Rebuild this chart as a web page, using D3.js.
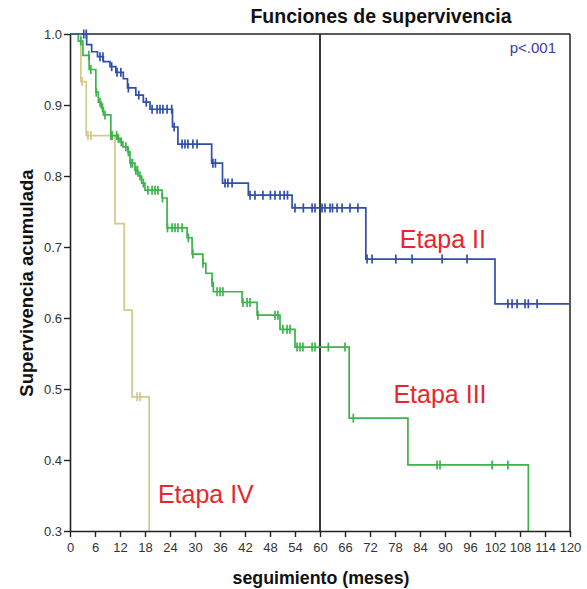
<!DOCTYPE html>
<html><head><meta charset="utf-8">
<script src="https://cdn.jsdelivr.net/npm/d3@7"></script>
<style>body{margin:0;background:#fff}svg{display:block}text{font-family:Arial,"Liberation Sans",sans-serif}</style>
</head><body><svg id="c" width="587" height="589"></svg>
<script>
// ---- data ----
const xTicks = [0,6,12,18,24,30,36,42,48,54,60,66,72,78,84,90,96,102,108,114,120];
const yTicks = [0.3,0.4,0.5,0.6,0.7,0.8,0.9,1.0];

// Etapa II (blue)
const etapa2Times = [0,4.0,5.2,6.6,8.0,9.6,11.0,12.8,13.8,15.8,17.6,19.2,24.6,25.9,34.0,36.6,42.8,53.3,71.0,102.0];
const etapa2Surv  = [1.0,0.985,0.975,0.968,0.961,0.954,0.946,0.937,0.924,0.914,0.904,0.894,0.869,0.845,0.818,0.790,0.773,0.755,0.683,0.620];
const etapa2End = 120;
const etapa2Censor = [3.3,3.9,7.2,7.9,10.0,11.3,12.2,14.0,16.5,18.3,19.7,20.9,21.6,22.3,23.3,24.4,25.0,26.9,27.6,28.3,29.5,30.5,34.3,34.9,37.2,37.9,38.9,43.2,44.4,46.3,48.1,49.2,50.4,51.4,52.2,54.0,56.0,58.1,58.8,60.5,61.2,62.4,63.0,64.1,65.3,67.2,69.1,71.3,72.5,78.2,82.1,89.3,95.3,105.1,106.1,107.3,109.2,110.0,112.1];

// Etapa III (green)
const etapa3Times = [0,2.0,3.1,4.6,6.2,6.8,7.5,8.0,9.8,11.3,12.0,12.7,13.9,14.4,15.6,16.3,17.2,18.0,22.1,23.3,28.1,29.3,31.9,32.6,34.1,34.4,41.3,44.9,50.4,54.0,67.0,81.1,110.0];
const etapa3Surv  = [1.0,0.990,0.970,0.950,0.918,0.904,0.896,0.886,0.857,0.853,0.848,0.841,0.834,0.818,0.808,0.800,0.790,0.780,0.769,0.727,0.713,0.690,0.677,0.663,0.650,0.637,0.622,0.604,0.584,0.559,0.459,0.393,0.0];
const etapa3End = 110.0;
const etapa3Censor = [2.6,4.5,5.0,6.3,7.2,7.8,8.4,9.8,10.1,11.2,11.6,12.3,13.4,14.0,14.6,15.0,15.8,16.2,16.8,17.6,18.7,19.7,20.4,21.1,22.2,23.4,24.5,25.2,25.9,26.9,28.4,29.5,31.9,34.1,35.3,36.0,36.7,41.5,42.5,43.2,45.1,49.2,49.9,51.1,52.1,52.8,54.5,55.2,55.9,58.1,58.8,62.0,66.0,68.0,88.1,88.8,101.3,105.1];

// Etapa IV (khaki)
const etapa4Times = [0,2.6,3.9,10.8,13.0,14.9,19.0];
const etapa4Surv  = [1.0,0.933,0.857,0.733,0.611,0.489,0.0];
const etapa4End = 19.0;
const etapa4Censor = [2.9,4.3,5.0,16.1,16.8];

const groups = [
  {name:"Etapa II", times:etapa2Times, surv:etapa2Surv, end:etapa2End, censor:etapa2Censor, color:"#2f4fab"},
  {name:"Etapa III", times:etapa3Times, surv:etapa3Surv, end:etapa3End, censor:etapa3Censor, color:"#3cb44b"},
  {name:"Etapa IV", times:etapa4Times, surv:etapa4Surv, end:etapa4End, censor:etapa4Censor, color:"#d2c98a"}
];
const labels = [
  {text:"Etapa II", t:89.5, s:0.699},
  {text:"Etapa III", t:88.8, s:0.480},
  {text:"Etapa IV", t:32.6, s:0.340}
];

// ---- chart ----
const svg = d3.select("#c");
const L=70, R=570, T=34, B=531;
const x = d3.scaleLinear().domain([0,120]).range([L,R]);
const y = d3.scaleLinear().domain([0.3,1.0]).range([B,T]);

svg.append("defs").append("clipPath").attr("id","clip")
  .append("rect").attr("x",L).attr("y",T-6).attr("width",R-L).attr("height",B-T+6);

// frame
svg.append("line").attr("x1",L).attr("x2",R).attr("y1",T).attr("y2",T).attr("stroke","#222").attr("stroke-width",1.5);
svg.append("line").attr("x1",R).attr("x2",R).attr("y1",T).attr("y2",B).attr("stroke","#222").attr("stroke-width",1.5);
// reference line at 60
svg.append("line").attr("x1",x(60)).attr("x2",x(60)).attr("y1",T).attr("y2",B).attr("stroke","#222").attr("stroke-width",1.8);

const g = svg.append("g").attr("clip-path","url(#clip)");
function survAt(gr,t){let s=gr.surv[0];for(let i=0;i<gr.times.length;i++){if(gr.times[i]<=t)s=gr.surv[i];}return s;}
const line = d3.line().x(d=>x(d[0])).y(d=>y(d[1])).curve(d3.curveStepAfter);
[groups[2],groups[1],groups[0]].forEach(gr=>{
  const pts = gr.times.map((t,i)=>[t,gr.surv[i]]);
  if(gr.times[gr.times.length-1] < gr.end) pts.push([gr.end, gr.surv[gr.surv.length-1]]);
  g.append("path").attr("d",line(pts)).attr("fill","none").attr("stroke",gr.color).attr("stroke-width",1.7);
  g.selectAll(null).data(gr.censor).enter().append("line")
    .attr("x1",d=>x(d)).attr("x2",d=>x(d))
    .attr("y1",d=>y(survAt(gr,d))-4.5).attr("y2",d=>y(survAt(gr,d))+4.5)
    .attr("stroke",gr.color).attr("stroke-width",1.7);
});

// axes
const xa = svg.append("g").attr("transform",`translate(0,${B})`)
  .call(d3.axisBottom(x).tickValues(xTicks).tickSize(6).tickSizeOuter(0).tickFormat(d3.format("d")));
const ya = svg.append("g").attr("transform",`translate(${L},0)`)
  .call(d3.axisLeft(y).tickValues(yTicks).tickSize(6).tickSizeOuter(0).tickFormat(d3.format(".1f")));
[xa,ya].forEach(a=>{
  a.select(".domain").attr("stroke","#222").attr("stroke-width",1.6);
  a.selectAll(".tick line").attr("stroke","#222").attr("stroke-width",1.4);
  a.selectAll(".tick text").attr("fill","#333").style("font-size","13px").style("font-family","Arial, 'Liberation Sans', sans-serif");
});
xa.selectAll(".tick text").attr("dy","0.95em");
ya.selectAll(".tick text").attr("x",-8);

// texts
svg.append("text").attr("x",381).attr("y",23).attr("text-anchor","middle")
  .style("font-size","19.5px").style("font-weight","bold").attr("fill","#111").text("Funciones de supervivencia");
svg.append("text").attr("x",556).attr("y",53).attr("text-anchor","end")
  .style("font-size","15px").attr("fill","#3a3aa8").text("p<.001");
svg.append("text").attr("x",321).attr("y",584).attr("text-anchor","middle")
  .style("font-size","17.8px").style("font-weight","bold").attr("fill","#111").text("seguimiento (meses)");
svg.append("text").attr("transform","translate(33,283) rotate(-90)").attr("text-anchor","middle")
  .style("font-size","18.5px").style("font-weight","bold").attr("fill","#111").text("Supervivencia acumulada");

svg.selectAll(".lbl").data(labels).enter().append("text").attr("class","lbl")
  .attr("x",d=>x(d.t)).attr("y",d=>y(d.s)).attr("text-anchor","middle")
  .style("font-size","25px").attr("fill","#e8262c").text(d=>d.text);
</script></body></html>
